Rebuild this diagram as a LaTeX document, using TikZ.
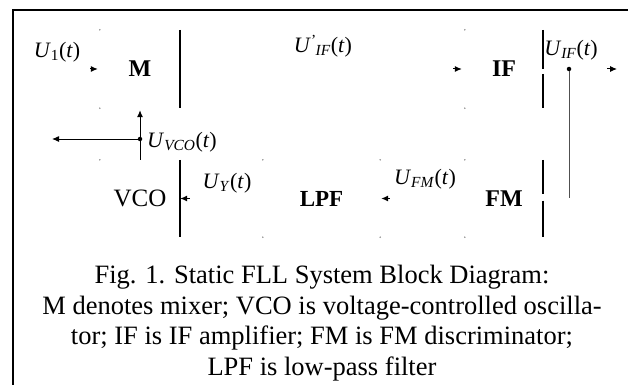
\documentclass[tikz,border=0pt]{standalone}
\usepackage{fontspec}
\setmainfont{Liberation Serif}
\usepackage{tikz}
\usetikzlibrary{positioning,arrows.meta,calc}
\definecolor{trazo}{RGB}{0,0,0}
\definecolor{grislinea}{RGB}{80,80,80}
\definecolor{grispunto}{RGB}{130,130,130}
\newcommand{\senal}[1]{\textit{U}\textsubscript{#1}(\textit{t})}

\begin{document}
\begin{tikzpicture}[x=1pt, y=-1pt,
  bloque/.style={minimum width=80pt, minimum height=78pt, inner sep=0pt,
                 font=\fontsize{24}{26}\selectfont\bfseries},
  etiqueta/.style={inner sep=0pt, font=\fontsize{22}{24}\selectfont},
  flecha/.style={-{Latex[length=7pt, width=6pt]}, line width=1pt, color=trazo},
  borde/.style={line width=1.8pt, color=trazo},
  punto/.style={circle, fill=trazo, inner sep=0pt, minimum size=4.5pt}]
  \useasboundingbox (0,0) rectangle (628,385);
  % marco
  \draw[line width=2.2pt] (628,10) -- (13,10) -- (13,385);
  % bloques
  \node[bloque] (m) at (140,69) {M};
  \node[bloque, minimum width=78pt] (ifa) at (504,69) {IF};
  \node[bloque, minimum height=77pt, font=\fontsize{25}{27}\selectfont] (vco) at (140,198.5) {VCO};
  \node[bloque, minimum width=117pt, minimum height=77pt, font=\fontsize{23}{25}\selectfont\bfseries] (lpf) at (321.5,198.5) {LPF};
  \node[bloque, minimum width=78pt, minimum height=77pt] (fm) at (504,198.5) {FM};
  \draw[borde] (m.north east) -- (m.south east);
  \draw[borde] (ifa.north east) -- ($(ifa.east)+(0,0.5)$);
  \draw[borde] ($(ifa.east)+(0,5)$) -- (ifa.south east);
  \draw[borde] (vco.north east) -- (vco.south east);
  \draw[borde] (fm.north east) -- ($(fm.east)+(0,-5)$);
  \draw[borde] ($(fm.east)+(0,2)$) -- (fm.south east);
  \foreach \esq in {m.north west, m.south west, ifa.north west, ifa.south west,
                    vco.north west, lpf.north west, lpf.south west, lpf.north east,
                    lpf.south east, fm.north west, fm.south west}
    \fill[grispunto] (\esq) circle (0.8);
  % conexiones
  \coordinate (entrada) at (90,69);
  \coordinate (salida) at (617,69);
  \draw[flecha] (entrada) -- ([xshift=-2pt]m.west);
  \draw[flecha, shorten <=273pt, shorten >=3pt] (m.east) -- (ifa.west);
  \draw[flecha, shorten <=64pt] (ifa.east) -- (salida);
  \node[punto] (nif) at (569,69) {};
  \coordinate (haciafm) at (569,198);
  \draw[line width=1pt, color=grislinea] (nif) -- (haciafm);
  \draw[flecha, shorten <=75pt, shorten >=1pt] (fm.west) -- (lpf.east);
  \draw[flecha, shorten <=73pt] (lpf.west) -- (vco.east);
  \node[punto] (nvco) at (140,139) {};
  \coordinate (retro) at (52,139);
  \draw[flecha, shorten >=2pt] (vco.north) -- (m.south);
  \draw[flecha] (nvco) -- (retro);
  % etiquetas
  \node[etiqueta] (lu1) at (57,52) {\senal{1}};
  \node[etiqueta] (luifp) at (323,46) {\textit{U}\textsuperscript{'}\kern-1pt\textsubscript{\textit{IF}}(\textit{t})};
  \node[etiqueta] (luif) at (571,50) {\senal{\textit{IF}}};
  \node[etiqueta, anchor=west] (luvco) at (147,142) {\senal{\textit{VCO}}};
  \node[etiqueta] (luy) at (227,183) {\senal{\textit{Y}}};
  \node[etiqueta] (lufm) at (425,179) {\senal{\textit{FM}}};
  % pie
  \node[anchor=north, inner sep=0pt, align=center,
        font=\fontsize{26.5}{30.5}\selectfont] (pie) at (322,265)
    {Fig. 1. Static FLL System Block Diagram:\\
     M denotes mixer; VCO is voltage-controlled oscilla-\\
     tor; IF is IF amplifier; FM is FM discriminator;\\
     LPF is low-pass filter};
\end{tikzpicture}
\end{document}
